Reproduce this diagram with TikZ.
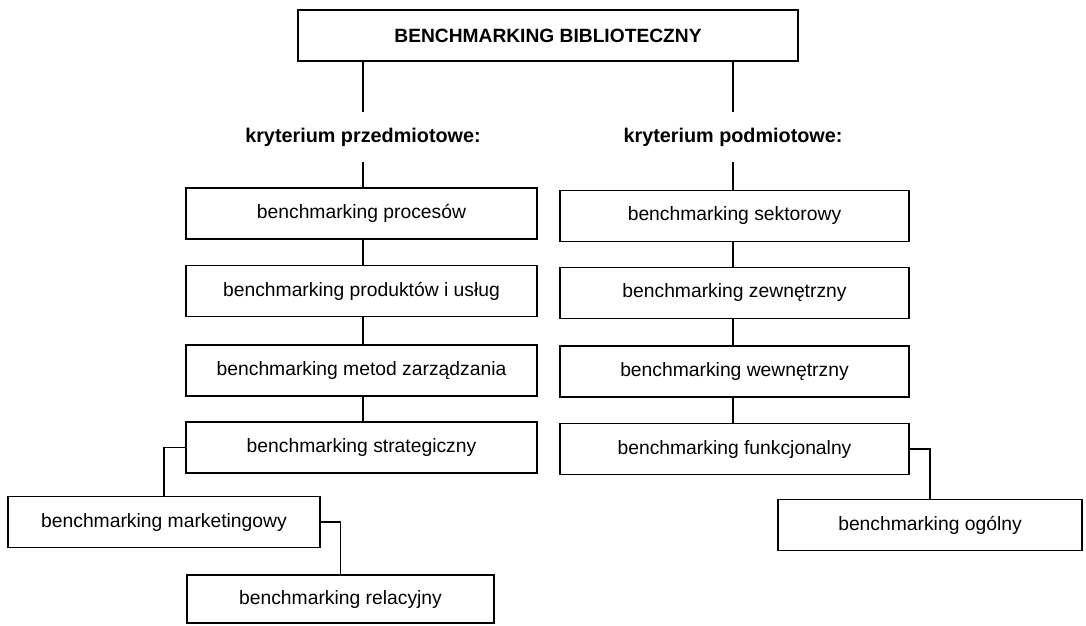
\documentclass[tikz,border=0pt]{standalone}
\usepackage{fontspec}
\setmainfont{Liberation Sans}
\begin{document}
\begin{tikzpicture}[x=1pt,y=-1pt,
  box/.style={draw, line width=1.5pt, minimum height=51pt, inner sep=0pt,
    font=\fontsize{19.3}{22}\selectfont},
  crit/.style={minimum height=50pt, inner sep=0pt,
    font=\fontsize{19.8}{22}\selectfont\bfseries},
  link/.style={line width=1.1pt}]
\useasboundingbox (0,0) rectangle (1086,625);
\fill[white] (0,0) rectangle (1086,625);

% root
\node[box, minimum width=500pt, font=\fontsize{19.2}{22}\selectfont\bfseries] (root) at (548,35.5) {BENCHMARKING BIBLIOTECZNY};

% the two criteria
\node[crit] (kp) at (363,137) {kryterium przedmiotowe:};
\node[crit] (ks) at (733,137) {kryterium podmiotowe:};

% left column
\node[box, minimum width=351pt] (l1) at (361.5,213.5) {benchmarking procesów};
\node[box, minimum width=351pt] (l2) at (361.5,291) {benchmarking produktów i usług};
\node[box, minimum width=351pt] (l3) at (361.5,370.5) {benchmarking metod zarządzania};
\node[box, minimum width=351pt] (l4) at (361.5,447.5) {benchmarking strategiczny};
\node[box, minimum width=312pt] (mk) at (164,522) {benchmarking marketingowy};
\node[box, minimum width=307pt, minimum height=48pt] (rl) at (340.5,599) {benchmarking relacyjny};

% right column
\node[box, minimum width=349pt] (r1) at (734.5,216) {benchmarking sektorowy};
\node[box, minimum width=349pt] (r2) at (734.5,293) {benchmarking zewnętrzny};
\node[box, minimum width=349pt] (r3) at (734.5,371.5) {benchmarking wewnętrzny};
\node[box, minimum width=349pt] (r4) at (734.5,449) {benchmarking funkcjonalny};
\node[box, minimum width=304pt] (og) at (930,525) {benchmarking ogólny};

% connectors
\draw[link] (root.south -| kp) -- (kp.north);
\draw[link] (kp.south) -- (l1.north -| kp);
\draw[link] (l1.south -| kp) -- (l2.north -| kp);
\draw[link] (l2.south -| kp) -- (l3.north -| kp);
\draw[link] (l3.south -| kp) -- (l4.north -| kp);
\draw[link] (l4.west) -| (mk.north);
\draw[link] (mk.east) -| (rl.north);

\draw[link] (root.south -| ks) -- (ks.north);
\draw[link] (ks.south) -- (r1.north -| ks);
\draw[link] (r1.south -| ks) -- (r2.north -| ks);
\draw[link] (r2.south -| ks) -- (r3.north -| ks);
\draw[link] (r3.south -| ks) -- (r4.north -| ks);
\draw[link] (r4.east) -| (og.north);
\end{tikzpicture}
\end{document}
